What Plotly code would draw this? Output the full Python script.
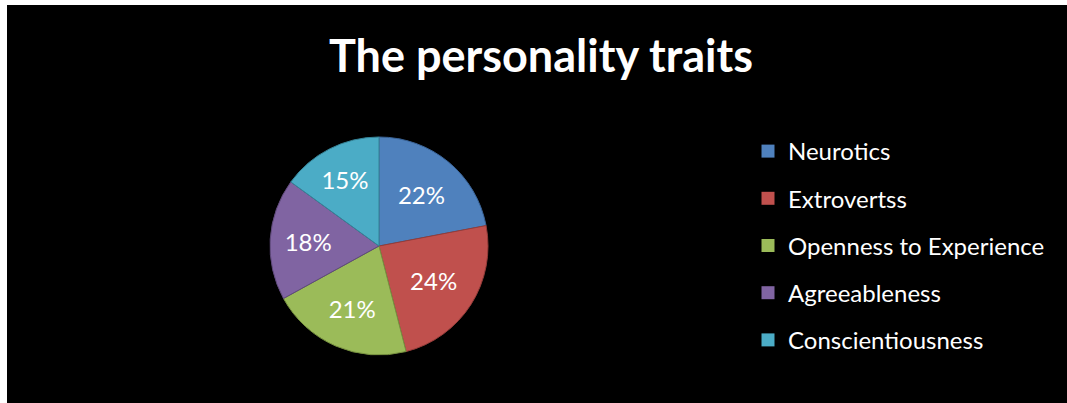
import plotly.graph_objects as go

# ---- data ----
categories = ["Neurotics", "Extrovertss", "Openness to Experience", "Agreeableness", "Conscientiousness"]
values = [22, 24, 21, 18, 15]
colors = ["#4F81BD", "#C0504D", "#9BBB59", "#8064A2", "#4BACC6"]
edge_colors = ["#3A6396", "#943C39", "#76903F", "#5F4A7B", "#358397"]
title_text = "The personality traits"

W, H = 1067, 403
FONT = "Lato"

fig = go.Figure()

# pie centre ~ (379, 246) px, radius ~109
cx, cy, r = 379, 246, 109
fig.add_trace(go.Pie(
    labels=categories,
    values=values,
    sort=False,
    direction="clockwise",
    rotation=0,
    marker=dict(colors=colors, line=dict(color=edge_colors, width=1)),
    textinfo="percent",
    texttemplate="%{percent:.0%}",
    textposition="inside",
    insidetextorientation="horizontal",
    textfont=dict(family=FONT, size=24, color="white"),
    domain=dict(x=[(cx - r) / W, (cx + r) / W], y=[(H - cy - r) / H, (H - cy + r) / H]),
    showlegend=False,
    hoverinfo="label+percent",
))

# legend entries (one per category) so spacing can be matched
for name, col in zip(categories, colors):
    fig.add_trace(go.Scatter(
        x=[None], y=[None], mode="markers", name=name, legendgroup=name,
        marker=dict(symbol="square", size=13, color=col),
    ))

fig.update_layout(
    width=W, height=H,
    margin=dict(l=0, r=0, t=0, b=0),
    paper_bgcolor="black",
    plot_bgcolor="black",
    xaxis=dict(visible=False), yaxis=dict(visible=False),
    title=dict(text="<b>" + title_text + "</b>", x=541 / W, xanchor="center",
               y=1 - 56 / H, yanchor="middle", yref="container",
               font=dict(family=FONT, size=45, color="white")),
    legend=dict(x=748 / W, xanchor="left", y=1 - 129 / H, yanchor="top",
                font=dict(family=FONT, size=24, color="white"),
                tracegroupgap=13, bgcolor="rgba(0,0,0,0)"),
    shapes=[
        dict(type="rect", xref="paper", yref="paper", x0=0, x1=7 / W, y0=0, y1=1,
             fillcolor="white", line=dict(width=0), layer="above"),
        dict(type="rect", xref="paper", yref="paper", x0=0, x1=1, y0=1 - 5 / H, y1=1,
             fillcolor="white", line=dict(width=0), layer="above"),
    ],
)

fig.write_html("out.html", config={"displayModeBar": False},
               post_script="document.body.style.margin='0';document.body.style.padding='0';")
